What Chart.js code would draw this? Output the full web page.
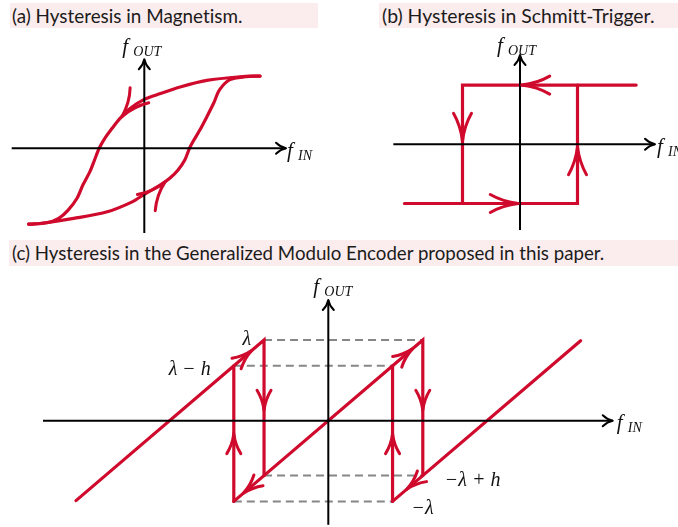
<!DOCTYPE html>
<html>
<head>
<meta charset="utf-8">
<script src="https://cdn.jsdelivr.net/npm/chart.js@4.4.0/dist/chart.umd.min.js"></script>
<style>
  body { margin: 0; background: #fff; width: 678px; height: 527px; overflow: hidden; position: relative; }
  .title { position: absolute; background: #fbeced; color: #1b1b1b; font-family: Lato, sans-serif;
           font-variant-ligatures: none; white-space: nowrap; overflow: hidden; box-sizing: border-box; }
  canvas { position: absolute; }
</style>
</head>
<body>
<div class="title" data-w="231" style="left:10px;top:3px;width:308px;height:25px;line-height:26px;padding-left:2px;">(a) Hysteresis in Magnetism.</div>
<div class="title" data-w="272" style="left:379px;top:3px;width:299px;height:25px;line-height:26px;padding-left:3px;">(b) Hysteresis in Schmitt-Trigger.</div>
<div class="title" data-w="593" style="left:9px;top:240px;width:669px;height:26px;line-height:27px;padding-left:3px;">(c) Hysteresis in the Generalized Modulo Encoder proposed in this paper.</div>
<canvas id="chartA" width="340" height="205" style="left:0;top:30px"></canvas>
<canvas id="chartB" width="338" height="205" style="left:340px;top:30px"></canvas>
<canvas id="chartC" width="678" height="259" style="left:0;top:268px"></canvas>
<script>
// (a) magnetism: upper branch runs right -> left, lower branch left -> right
const magUpperX = [1.00, 0.83, 0.54, 0.31, 0.14, 0.00, -0.12, -0.21, -0.28, -0.34, -0.39, -0.43, -0.47, -0.53, -0.58, -0.66, -0.74, -0.84, -1.00];
const magUpperY = [0.99, 0.98, 0.93, 0.84, 0.75, 0.67, 0.55, 0.41, 0.27, 0.14, 0.00, -0.16, -0.32, -0.50, -0.68, -0.85, -0.96, -1.02, -1.04];
const magLowerX = [-1.00, -0.90, -0.61, -0.32, -0.10, 0.00, 0.14, 0.22, 0.29, 0.35, 0.39, 0.42, 0.48, 0.54, 0.60, 0.65, 0.74, 0.87, 1.00];
const magLowerY = [-1.04, -1.03, -0.96, -0.87, -0.73, -0.63, -0.50, -0.41, -0.30, -0.16, 0.00, 0.09, 0.25, 0.43, 0.62, 0.80, 0.94, 0.98, 0.99];
const magArrowX = [-0.195, 0.18];
const magArrowY = [0.43, -0.46];
const magArrowDir = [[-0.17, -0.33], [0.12, 0.21]];

// (b) schmitt trigger
const schTopX = [2.02, -1, -1];
const schTopY = [1, 1, -1];
const schBotX = [-2.01, 1, 1];
const schBotY = [-1, -1, 1];
const schArrowX = [0.03, -1, -0.03, 1];
const schArrowY = [1, 0.05, -1, -0.04];
const schArrowDir = [[-1, 0], [0, -1], [1, 0], [0, 1]];

// (c) modulo encoder, lambda = 1, h = 0.32
const modPaths = [
  { x: [-2.67, -0.68, -0.68], y: [-0.99, 1, -0.68] },
  { x: [-1, -1], y: [-1, 0.68] },
  { x: [-1, 1, 1], y: [-1, 1, -0.68] },
  { x: [0.68, 0.68], y: [-1, 0.68] },
  { x: [0.68, 2.67], y: [-1, 0.99] }
];
const modDashed = [
  { x: [-0.68, 1], y: [1, 1] },
  { x: [-1, 0.68], y: [0.68, 0.68] },
  { x: [-0.68, 1], y: [-0.68, -0.68] },
  { x: [-1, 0.68], y: [-1, -1] }
];
const modArrowX = [-0.81, -0.68, -1, -0.9, 0.89, 1, 0.68, 0.83];
const modArrowY = [0.87, 0.13, -0.16, -0.9, 0.89, 0.13, -0.16, -0.85];
const modArrowDir = [[1, 1], [0, -1], [0, 1], [-1, -1], [1, 1], [0, -1], [0, 1], [-1, -1]];

const RED = '#cf0a2c';
const MATH = '"Liberation Serif"';

function pts(xs, ys) { return xs.map((x, i) => ({ x: x, y: ys[i] })); }

function drawHead(ctx, tx, ty, ux, uy, len, hw, color, lw) {
    const px = -uy, py = ux;
    ctx.save();
    ctx.strokeStyle = color;
    ctx.lineWidth = lw;
    ctx.lineCap = 'round';
    ctx.beginPath();
    [1, -1].forEach(s => {
        const ex = tx - ux * len + px * hw * s, ey = ty - uy * len + py * hw * s;
        const cx = tx - ux * len * 0.55 + px * hw * 0.2 * s, cy = ty - uy * len * 0.55 + py * hw * 0.2 * s;
        ctx.moveTo(tx, ty);
        ctx.quadraticCurveTo(cx, cy, ex, ey);
    });
    ctx.stroke();
    ctx.restore();
}

const decorPlugin = {
    id: 'decor',
    afterDatasetsDraw(chart, args, opts) {
        const ctx = chart.ctx, sx = chart.scales.x, sy = chart.scales.y;
        (opts.arrows || []).forEach(a => {
            const tx = sx.getPixelForValue(a.x), ty = sy.getPixelForValue(a.y);
            const vx = sx.getPixelForValue(a.x + a.d[0] * 0.01) - tx;
            const vy = sy.getPixelForValue(a.y + a.d[1] * 0.01) - ty;
            const n = Math.hypot(vx, vy);
            drawHead(ctx, tx, ty, vx / n, vy / n, a.len, a.hw, a.color, a.lw);
        });
        (opts.labels || []).forEach(l => {
            let x = sx.getPixelForValue(l.x) + l.ox, y = sy.getPixelForValue(l.y) + l.oy;
            ctx.save();
            ctx.fillStyle = '#111';
            ctx.textBaseline = 'alphabetic';
            ctx.font = 'italic ' + (l.size || 21) + 'px ' + MATH;
            ctx.textAlign = l.align || 'left';
            ctx.fillText(l.main, x, y);
            if (l.sub) {
                ctx.font = 'italic 14px ' + MATH;
                ctx.textAlign = 'left';
                ctx.fillText(l.sub, x + 11, y + 3);
            }
            ctx.restore();
        });
    }
};

function makePanel(id, box, axes, lines, arrows, labels) {
    const W = box.w, H = box.h;
    const xmin = -box.ox / box.ux, xmax = (W - box.ox) / box.ux;
    const ymax = box.oy / box.uy, ymin = -(H - box.oy) / box.uy;
    const datasets = lines.slice();
    datasets.push({ data: [{ x: axes.x0, y: 0 }, { x: axes.x1, y: 0 }], borderColor: '#000', borderWidth: 2, order: 0 });
    datasets.push({ data: [{ x: 0, y: axes.y0 }, { x: 0, y: axes.y1 }], borderColor: '#000', borderWidth: 2, order: 0 });
    datasets.forEach(d => { d.showLine = true; d.pointRadius = 0; d.fill = false; d.clip = false; });
    const axisArrows = [
        { x: axes.x1, y: 0, d: [1, 0], len: 10, hw: 5.5, color: '#000', lw: 2 },
        { x: 0, y: axes.y1, d: [0, 1], len: 10, hw: 5.5, color: '#000', lw: 2 }
    ];
    return new Chart(document.getElementById(id), {
        type: 'scatter',
        data: { datasets: datasets },
        options: {
            responsive: false, animation: false, events: [],
            layout: { padding: 0 },
            plugins: { legend: { display: false }, tooltip: { enabled: false },
                       decor: { arrows: arrows.concat(axisArrows), labels: labels } },
            scales: {
                x: { type: 'linear', display: false, min: xmin, max: xmax },
                y: { type: 'linear', display: false, min: ymin, max: ymax }
            }
        },
        plugins: [decorPlugin]
    });
}

function redLine(data, tension) {
    return { data: data, borderColor: RED, borderWidth: 3.2, order: 1, tension: tension || 0,
             borderCapStyle: 'round', borderJoinStyle: 'miter' };
}

function arrowsFrom(xs, ys, dirs, len, hw) {
    return xs.map((x, i) => ({ x: x, y: ys[i], d: dirs[i], len: len, hw: hw, color: RED, lw: 3 }));
}

document.addEventListener('DOMContentLoaded', () => {
    // fit title font sizes to the measured widths
    const mctx = document.createElement('canvas').getContext('2d');
    document.querySelectorAll('.title').forEach(el => {
        mctx.font = '100px Lato';
        const w = mctx.measureText(el.textContent).width;
        el.style.fontSize = (100 * (+el.dataset.w) / w).toFixed(2) + 'px';
    });

    // --- (a) Magnetism ---
    makePanel('chartA',
        { w: 340, h: 205, ox: 144.3, oy: 118.3, ux: 115.7, uy: 73 },
        { x0: -1.146, x1: 1.225, y0: -1.16, y1: 1.22 },
        [redLine(pts(magUpperX, magUpperY), 0.3), redLine(pts(magLowerX, magLowerY), 0.3)],
        arrowsFrom(magArrowX, magArrowY, magArrowDir, 28, 12),
        [
            { x: 0, y: 1.22, ox: -22, oy: -6.5, main: 'f', sub: 'OUT' },
            { x: 1.225, y: 0, ox: 1, oy: 9, main: 'f', sub: 'IN' }
        ]);

    // --- (b) Schmitt-Trigger ---
    makePanel('chartB',
        { w: 338, h: 205, ox: 180, oy: 114.3, ux: 57.5, uy: 59.2 },
        { x0: -2.203, x1: 2.348, y0: -1.448, y1: 1.508 },
        [redLine(pts(schTopX, schTopY)), redLine(pts(schBotX, schBotY))],
        arrowsFrom(schArrowX, schArrowY, schArrowDir, 28, 9),
        [
            { x: 0, y: 1.508, ox: -23, oy: -3, main: 'f', sub: 'OUT' },
            { x: 2.348, y: 0, ox: 2, oy: 9, main: 'f', sub: 'IN' }
        ]);

    // --- (c) Generalized Modulo Encoder ---
    const dashed = modDashed.map(p => ({ data: pts(p.x, p.y), borderColor: '#868686', borderWidth: 2, borderDash: [8, 5], order: 2 }));
    makePanel('chartC',
        { w: 678, h: 259, ox: 328.3, oy: 152.7, ux: 94.5, uy: 80.7 },
        { x0: -3.019, x1: 3.01, y0: -1.29, y1: 1.496 },
        modPaths.map(p => redLine(pts(p.x, p.y))).concat(dashed),
        arrowsFrom(modArrowX, modArrowY, modArrowDir, 20, 7),
        [
            { x: 0, y: 1.496, ox: -15, oy: -7, main: 'f', sub: 'OUT' },
            { x: 3.01, y: 0, ox: 4, oy: 8, main: 'f', sub: 'IN' },
            { x: -0.68, y: 1, ox: -13, oy: 5, main: 'λ', align: 'right', size: 20 },
            { x: -1, y: 0.68, ox: -23, oy: 9, main: 'λ − h', align: 'right', size: 20 },
            { x: 1, y: -0.68, ox: 22, oy: 10, main: '−λ + h', size: 20 },
            { x: 0.68, y: -1, ox: 19, oy: 13, main: '−λ', size: 20 }
        ]);
});
</script>
</body>
</html>
